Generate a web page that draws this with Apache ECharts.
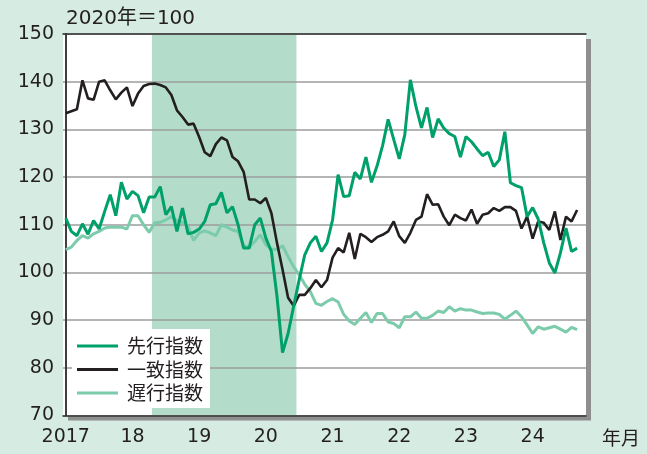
<!DOCTYPE html>
<html>
<head>
<meta charset="utf-8">
<script src="https://cdn.jsdelivr.net/npm/echarts@6/dist/echarts.min.js"></script>
<style>
  html, body { margin: 0; padding: 0; background: #d6ebe2; }
  #chart { width: 647px; height: 454px; }
</style>
</head>
<body>
<div id="chart"></div>
<script>
// 月次データ 2017年1月〜2024年9月
var leading = [
  111.4, 108.6, 107.7, 110.2, 108.0, 110.9, 109.1, 112.8, 116.3, 111.9, 118.9, 115.4,
  117.0, 116.1, 112.5, 115.8, 115.8, 118.0, 112.1, 113.8, 108.6, 113.5, 108.1, 108.4,
  109.1, 110.7, 114.2, 114.4, 116.8, 112.5, 113.8, 110.0, 105.1, 105.1, 110.0, 111.4,
  107.2, 104.4, 95.0, 83.2, 87.2, 92.9, 98.5, 103.7, 106.2, 107.6, 104.4, 106.2,
  111.0, 120.5, 115.9, 116.1, 121.0, 119.6, 124.2, 118.9, 122.3, 126.6, 132.1, 127.9,
  123.8, 128.9, 140.4, 134.8, 130.3, 134.6, 128.3, 132.2, 130.3, 129.1, 128.5, 124.2,
  128.5, 127.4, 125.9, 124.5, 125.2, 122.2, 123.6, 129.5, 118.8, 118.2, 117.8, 111.7,
  113.6, 111.2, 106.2, 102.0, 99.9, 104.1, 109.3, 104.4, 105.1
]
var coincident = [
  133.4, 133.8, 134.2, 140.3, 136.5, 136.2, 140.0, 140.3, 138.2, 136.3, 137.7, 138.8,
  134.9, 137.5, 139.1, 139.5, 139.6, 139.3, 138.8, 137.2, 134.0, 132.6, 131.0, 131.2,
  128.4, 125.2, 124.4, 126.9, 128.3, 127.7, 124.2, 123.3, 121.1, 115.3, 115.3, 114.5,
  115.6, 112.4, 106.2, 100.6, 94.7, 93.0, 95.3, 95.3, 96.7, 98.4, 96.9, 98.4,
  103.1, 105.1, 104.2, 108.3, 102.8, 108.1, 107.4, 106.4, 107.4, 107.9, 108.6, 110.7,
  107.6, 106.2, 108.3, 111.0, 111.7, 116.4, 114.2, 114.3, 111.7, 109.9, 112.1, 111.4,
  110.9, 113.2, 110.2, 112.1, 112.4, 113.5, 112.9, 113.7, 113.7, 112.9, 109.2, 111.7,
  107.1, 110.7, 110.4, 108.9, 112.8, 106.8, 111.7, 110.7, 113.1
]
var lagging = [
  104.8, 105.3, 106.7, 107.7, 107.2, 108.1, 108.6, 109.3, 109.5, 109.5, 109.5, 109.1,
  111.9, 111.9, 110.0, 108.4, 110.4, 110.5, 111.0, 111.7, 110.9, 110.5, 109.6, 106.7,
  108.3, 108.7, 108.3, 107.7, 110.0, 109.5, 108.9, 108.6, 105.6, 105.3, 106.5, 107.9,
  105.8, 104.9, 104.8, 105.6, 103.3, 101.2, 99.5, 97.5, 96.0, 93.5, 93.1, 93.9,
  94.5, 93.8, 91.2, 89.8, 89.1, 90.4, 91.6, 89.5, 91.4, 91.4, 89.6, 89.3,
  88.4, 90.7, 90.7, 91.7, 90.4, 90.4, 91.0, 91.9, 91.6, 92.8, 91.9, 92.4,
  92.1, 92.1, 91.7, 91.4, 91.5, 91.5, 91.2, 90.2, 91.0, 91.9, 90.7, 89.0,
  87.2, 88.6, 88.1, 88.4, 88.7, 88.1, 87.5, 88.5, 88.0
]
var yearLabels = ['2017', '18', '19', '20', '21', '22', '23', '24']
// 景気後退期（月インデックス）
var shadeRange = [15.5, 41.5]

function toPairs (arr) {
  return arr.map(function (v, i) { return [i, v] })
}

var fontNum = 'DejaVu Sans, Noto Sans CJK JP, sans-serif'
var fontJp = 'Noto Sans CJK JP, DejaVu Sans, sans-serif'
var ink = '#231f20'
var xMin = -0.5
var xMax = 93.6

var chart = echarts.init(document.getElementById('chart'), null, { renderer: 'canvas' })
chart.setOption({
  backgroundColor: '#d6ebe2',
  animation: false,
  title: {
    text: '2020年＝100',
    left: 61,
    top: 4,
    textStyle: { fontFamily: fontNum, fontSize: 20, fontWeight: 'normal', color: ink }
  },
  grid: {
    left: 63,
    right: 61,
    top: 34,
    bottom: 38.5,
    outerBoundsMode: 'none',
    containLabel: false,
    show: true,
    backgroundColor: '#fff',
    borderWidth: 0,
    shadowColor: '#8e8f8f',
    shadowBlur: 0,
    shadowOffsetX: 5,
    shadowOffsetY: 5
  },
  legend: {
    orient: 'vertical',
    left: 72,
    top: 329,
    padding: [7, 7, 5, 5],
    icon: 'rect',
    itemWidth: 41,
    itemHeight: 3,
    itemGap: 3.5,
    backgroundColor: '#fff',
    textStyle: { fontFamily: fontJp, fontSize: 19, lineHeight: 20, color: ink, padding: [0, 0, 0, 4] },
    data: ['先行指数', '一致指数', '遅行指数']
  },
  xAxis: [{
    type: 'value',
    min: xMin,
    max: xMax,
    z: 1.5,
    splitLine: { show: false },
    axisTick: { show: false },
    axisLine: { show: true, lineStyle: { color: '#333', width: 1.5 } },
    axisLabel: {
      customValues: yearLabels.map(function (s, k) { return k * 12 }),
      formatter: function (v) { return yearLabels[Math.round(v / 12)] },
      fontFamily: fontNum,
      fontSize: 19,
      color: ink,
      margin: 12
    },
    name: '年月',
    nameLocation: 'end',
    nameGap: 16,
    nameTextStyle: { fontFamily: fontJp, fontSize: 19, color: ink, verticalAlign: 'top', lineHeight: 44 }
  }, {
    type: 'value',
    position: 'top',
    min: xMin,
    max: xMax,
    z: 1.5,
    splitLine: { show: false },
    axisTick: { show: false },
    axisLabel: { show: false },
    axisLine: { show: true, lineStyle: { color: '#333', width: 1.5 } }
  }],
  yAxis: [{
    type: 'value',
    min: 70,
    max: 150,
    interval: 10,
    z: 1.5,
    axisTick: { show: false },
    axisLine: { show: true, lineStyle: { color: '#333', width: 1.5 } },
    splitLine: { lineStyle: { color: '#9c9d9d', width: 1.6 } },
    axisLabel: { fontFamily: fontNum, fontSize: 19, color: ink, margin: 9 }
  }, {
    type: 'value',
    position: 'right',
    min: 70,
    max: 150,
    z: 1.5,
    splitLine: { show: false },
    axisTick: { show: false },
    axisLabel: { show: false },
    axisLine: { show: true, lineStyle: { color: '#333', width: 1.5 } }
  }],
  series: [{
    name: 'shade',
    type: 'line',
    data: [],
    z: 1,
    markArea: {
      silent: true,
      itemStyle: { color: '#b3dccb' },
      data: [[{ xAxis: shadeRange[0] }, { xAxis: shadeRange[1] }]]
    }
  }, {
    name: '遅行指数',
    type: 'line',
    symbol: 'none',
    z: 2,
    lineStyle: { color: '#7ccbab', width: 3 },
    itemStyle: { color: '#7ccbab' },
    data: toPairs(lagging)
  }, {
    name: '一致指数',
    type: 'line',
    symbol: 'none',
    z: 3,
    lineStyle: { color: '#231f20', width: 2.6 },
    itemStyle: { color: '#231f20' },
    data: toPairs(coincident)
  }, {
    name: '先行指数',
    type: 'line',
    symbol: 'none',
    z: 4,
    lineStyle: { color: '#00a06b', width: 3 },
    itemStyle: { color: '#00a06b' },
    data: toPairs(leading)
  }]
})
</script>
</body>
</html>
